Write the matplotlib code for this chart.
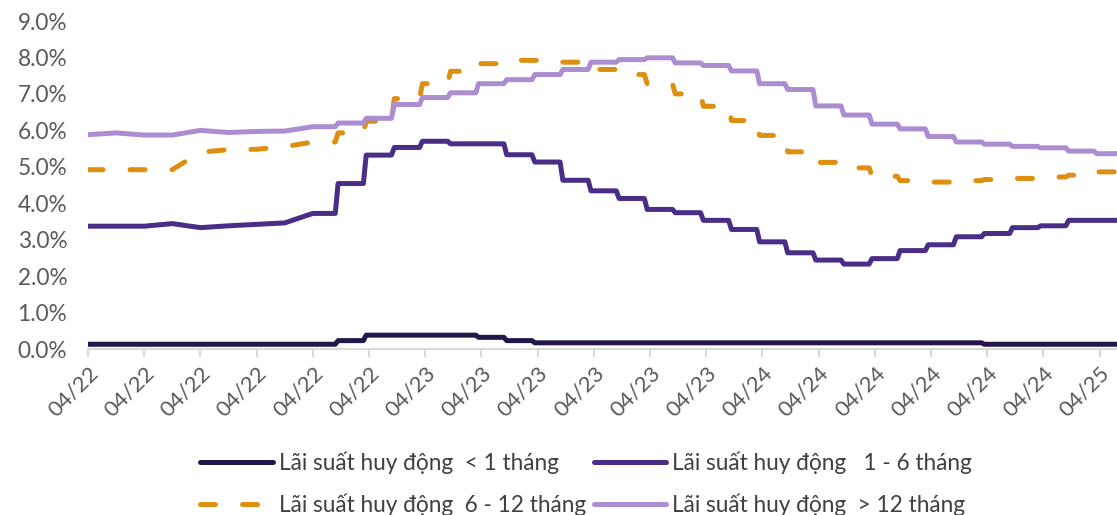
import numpy as np
import matplotlib.pyplot as plt

plt.rcParams['font.family'] = ['Lato', 'DejaVu Sans']

# nhãn trục x (mỗi vạch = 2 tháng)
tick_labels = ['04/22'] * 6 + ['04/23'] * 6 + ['04/24'] * 6 + ['04/25']

# lãi suất theo tháng (%), tháng 0 = 04/2022
lt_1m = [0.13, 0.13, 0.13, 0.13, 0.13, 0.13, 0.13, 0.13, 0.13, 0.23,
         0.38, 0.38, 0.38, 0.38, 0.32, 0.23, 0.17, 0.17, 0.17, 0.17,
         0.17, 0.17, 0.17, 0.17, 0.17, 0.17, 0.17, 0.17, 0.17, 0.17,
         0.17, 0.17, 0.13, 0.13, 0.13, 0.13, 0.13]
m1_6 = [3.37, 3.37, 3.37, 3.44, 3.33, 3.38, 3.42, 3.46, 3.72, 4.54,
        5.32, 5.53, 5.70, 5.63, 5.63, 5.33, 5.13, 4.63, 4.34, 4.13,
        3.83, 3.74, 3.53, 3.28, 2.94, 2.64, 2.44, 2.33, 2.48, 2.70,
        2.86, 3.08, 3.17, 3.33, 3.38, 3.53, 3.53]
m6_12 = [4.92, 4.92, 4.92, 4.92, 5.40, 5.47, 5.48, 5.55, 5.68, 5.93,
         6.25, 6.87, 7.28, 7.62, 7.83, 7.92, 7.92, 7.87, 7.67, 7.53,
         7.28, 7.00, 6.66, 6.27, 5.86, 5.41, 5.12, 4.97, 4.74, 4.62,
         4.58, 4.62, 4.65, 4.68, 4.72, 4.77, 4.86]
gt_12m = [5.88, 5.93, 5.87, 5.87, 6.00, 5.94, 5.97, 5.98, 6.10, 6.20,
          6.33, 6.71, 6.90, 7.03, 7.28, 7.39, 7.53, 7.67, 7.87, 7.94,
          7.99, 7.85, 7.78, 7.63, 7.28, 7.12, 6.67, 6.42, 6.17, 6.04,
          5.83, 5.68, 5.62, 5.56, 5.52, 5.43, 5.36]

labels = ['Lãi suất huy động  < 1 tháng',
          'Lãi suất huy động   1 - 6 tháng',
          'Lãi suất huy động  6 - 12 tháng',
          'Lãi suất huy động  > 12 tháng']
colors = ['#22164A', '#4A2D86', '#DE8F10', '#AC8DD0']


# 2022: nối điểm theo tháng, sau đó: giữ nguyên trong tháng (bậc thang)
def make_path(vals, n_lin=8):
    xs, ys = [], []
    for m, v in enumerate(vals):
        if m < n_lin:
            xs.append(m)
            ys.append(v)
        elif m == n_lin:
            xs += [m, m + 0.8]
            ys += [v, v]
        else:
            xs += [m - 0.1, m + 0.8]
            ys += [v, v]
    return xs, ys


fig = plt.figure(figsize=(11.17, 5.15), dpi=100)
ax = fig.add_axes([88 / 1117, 1 - 349 / 515, 1 - 88 / 1117, (349 - 21) / 515])

lines = []
for vals, lab, c in zip([lt_1m, m1_6, m6_12, gt_12m], labels, colors):
    x, y = make_path(vals)
    if '6 - 12' in lab:
        ln, = ax.plot(x, y, color=c, lw=3.6, label=lab, dashes=(3, 5.4),
                      dash_capstyle='round', solid_joinstyle='round')
    else:
        ln, = ax.plot(x, y, color=c, lw=3.6, label=lab,
                      solid_capstyle='round', solid_joinstyle='round')
    lines.append(ln)

ax.set_xlim(0, 36.62)
ax.set_ylim(0, 9)
ax.set_yticks(np.arange(0, 10))
ax.set_yticklabels(['{:.1f}%'.format(v) for v in range(10)])
ax.set_xticks(np.arange(0, 37, 2))
ax.set_xticklabels(tick_labels, rotation=45, ha='right', va='top',
                   rotation_mode='anchor')

for s in ['top', 'right', 'left']:
    ax.spines[s].set_visible(False)
ax.spines['bottom'].set_color('#D9D9D9')
ax.spines['bottom'].set_linewidth(1.5)
ax.tick_params(axis='y', length=0, pad=15, labelsize=16.3, labelcolor='#595959')
ax.tick_params(axis='x', length=6, width=1.5, color='#D9D9D9', pad=4,
               labelsize=16, labelcolor='#595959')

order = [0, 2, 1, 3]
fig.legend([lines[i] for i in order], [labels[i] for i in order],
           ncol=2, loc='center', bbox_to_anchor=(586 / 1117, 1 - 484 / 515),
           frameon=False, fontsize=16.3, handlelength=3.2, handletextpad=0.25,
           columnspacing=0.35, labelspacing=0.85, labelcolor='#404040')

fig.savefig('out.png', dpi=100)
